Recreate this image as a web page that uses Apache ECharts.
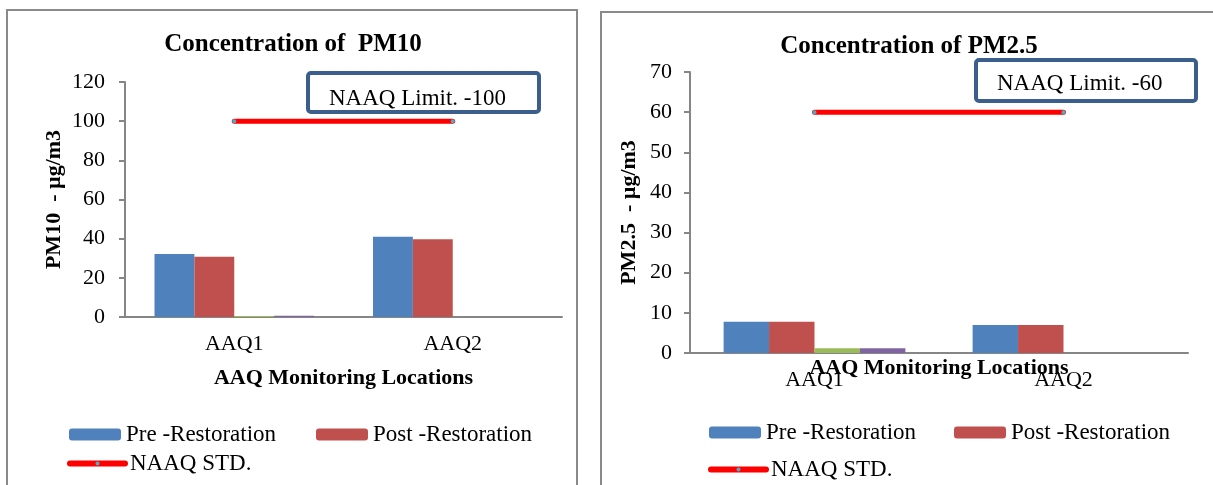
<!DOCTYPE html>
<html>
<head>
<meta charset="utf-8">
<script src="https://cdn.jsdelivr.net/npm/echarts@6/dist/echarts.min.js"></script>
<style>
html,body{margin:0;padding:0;background:#fff;}
#main{width:1213px;height:485px;}
</style>
</head>
<body>
<div id="main"></div>
<script>
// ---- data ----
const categories = ['AAQ1', 'AAQ2'];
const pm10Pre = [32.2, 41.0];
const pm10Post = [30.8, 39.7];
const pm10Extra1 = [0.5, null];
const pm10Extra2 = [0.7, null];
const pm10Std = [100, 100];
const pm25Pre = [7.8, 7.0];
const pm25Post = [7.8, 7.0];
const pm25Extra1 = [1.2, null];
const pm25Extra2 = [1.2, null];
const pm25Std = [60, 60];
const pm10Ticks = {min: 0, max: 120, interval: 20};
const pm25Ticks = {min: 0, max: 70, interval: 10};
const titles = ['Concentration of  PM10', 'Concentration of PM2.5'];
const yNames = ['PM10  - \u00b5g/m3', 'PM2.5  - \u00b5g/m3'];
const xName = 'AAQ Monitoring Locations';
const limitTexts = ['NAAQ Limit. -100', 'NAAQ Limit. -60'];
const legendNames = ['Pre -Restoration', 'Post -Restoration', 'NAAQ STD.'];

const FONT = '"Liberation Serif", "DejaVu Serif", serif';
const C_BLUE = '#4F81BD', C_RED = '#C0504D', C_GREEN = '#9BBB59', C_PURPLE = '#8064A2';
const AXIS = '#868686';

const chart = echarts.init(document.getElementById('main'));

function yAxis(idx, ticks, name, gap, margin) {
  return {
    type: 'value', gridIndex: idx, min: ticks.min, max: ticks.max, interval: ticks.interval,
    name: name, nameLocation: 'middle', nameGap: gap, nameRotate: 90, nameMoveOverlap: false,
    nameTextStyle: {fontFamily: FONT, fontWeight: 'bold', fontSize: 22, color: '#000'},
    axisLine: {show: true, lineStyle: {color: AXIS, width: 2}},
    axisTick: {show: true, length: 6, lineStyle: {color: AXIS, width: 2}},
    axisLabel: {fontFamily: FONT, fontSize: 22, color: '#000', margin: margin},
    splitLine: {show: false}
  };
}
function xAxis(idx, gap, margin) {
  return {
    type: 'category', gridIndex: idx, data: categories,
    name: xName, nameLocation: 'middle', nameGap: gap, nameMoveOverlap: false,
    nameTextStyle: {fontFamily: FONT, fontWeight: 'bold', fontSize: 22, color: '#000'},
    axisLine: {show: true, lineStyle: {color: AXIS, width: 2}},
    axisTick: {show: false},
    axisLabel: {fontFamily: FONT, fontSize: 22, color: '#000', margin: margin},
    splitLine: {show: false}
  };
}
function barSeries(name, data, color, idx) {
  return {
    type: 'bar', name: name, data: data, xAxisIndex: idx, yAxisIndex: idx,
    itemStyle: {color: color}, barGap: '0%', barCategoryGap: '27%', z: 2
  };
}
function lineSeries(data, idx) {
  return {
    type: 'line', name: legendNames[2], data: data, xAxisIndex: idx, yAxisIndex: idx,
    symbol: 'circle', symbolSize: 4, showSymbol: true,
    itemStyle: {color: '#4BACC6'},
    lineStyle: {color: '#FF0000', width: 5, cap: 'round'}, z: 5
  };
}
function legendItem(name, left, top, iw, ih) {
  return {
    data: [name], left: left, top: top, padding: 0, itemWidth: iw, itemHeight: ih, itemGap: 0,
    selectedMode: false,
    textStyle: {fontFamily: FONT, fontSize: 23, color: '#000', padding: [0, 0, 0, 0]},
    itemStyle: {borderWidth: 0},
    lineStyle: {width: 6, cap: 'round', color: '#FF0000'}
  };
}

const option = {
  animation: false,
  backgroundColor: '#fff',
  title: [
    {text: titles[0], left: 293, top: 32, textAlign: 'center', padding: 0,
     textStyle: {fontFamily: FONT, fontWeight: 'bold', fontSize: 25, color: '#000'}},
    {text: titles[1], left: 909, top: 34, textAlign: 'center', padding: 0,
     textStyle: {fontFamily: FONT, fontWeight: 'bold', fontSize: 25, color: '#000'}}
  ],
  grid: [
    {left: 125, top: 82, width: 437, height: 235, containLabel: false},
    {left: 690, top: 72, width: 498, height: 281, containLabel: false}
  ],
  xAxis: [xAxis(0, 50, 16), xAxis(1, 4, 16)],
  yAxis: [yAxis(0, pm10Ticks, yNames[0], 60, 20), yAxis(1, pm25Ticks, yNames[1], 50, 18)],
  legend: [
    legendItem(legendNames[0], 69, 423, 52, 12),
    legendItem(legendNames[1], 316, 423, 52, 12),
    legendItem(legendNames[2], 67, 452, 55, 5),
    legendItem(legendNames[0], 709, 421, 52, 12),
    legendItem(legendNames[1], 954, 421, 52, 12),
    legendItem(legendNames[2], 708, 458, 55, 5)
  ],
  series: [
    barSeries(legendNames[0], pm10Pre, C_BLUE, 0),
    barSeries(legendNames[1], pm10Post, C_RED, 0),
    barSeries('Series3', pm10Extra1, C_GREEN, 0),
    barSeries('Series4', pm10Extra2, C_PURPLE, 0),
    lineSeries(pm10Std, 0),
    barSeries(legendNames[0], pm25Pre, C_BLUE, 1),
    barSeries(legendNames[1], pm25Post, C_RED, 1),
    barSeries('Series3', pm25Extra1, C_GREEN, 1),
    barSeries('Series4', pm25Extra2, C_PURPLE, 1),
    lineSeries(pm25Std, 1)
  ],
  graphic: [
    {type: 'rect', shape: {x: 7, y: 10, width: 570, height: 520},
     style: {fill: 'none', stroke: '#8A8A8A', lineWidth: 2}, silent: true, z: 0},
    {type: 'rect', shape: {x: 601, y: 12, width: 700, height: 520},
     style: {fill: 'none', stroke: '#8A8A8A', lineWidth: 2}, silent: true, z: 0},
    {type: 'rect', shape: {x: 308, y: 73, width: 231, height: 39, r: 3},
     style: {fill: '#fff', stroke: '#3B5E8C', lineWidth: 4}, z: 10},
    {type: 'text', x: 329, y: 99,
     style: {text: limitTexts[0], fontFamily: FONT, fontSize: 23, fill: '#000', verticalAlign: 'middle', align: 'left'}, z: 11},
    {type: 'rect', shape: {x: 976, y: 60, width: 220, height: 41, r: 3},
     style: {fill: '#fff', stroke: '#3B5E8C', lineWidth: 4}, z: 10},
    {type: 'text', x: 997, y: 84,
     style: {text: limitTexts[1], fontFamily: FONT, fontSize: 23, fill: '#000', verticalAlign: 'middle', align: 'left'}, z: 11}
  ]
};
chart.setOption(option);
</script>
</body>
</html>
